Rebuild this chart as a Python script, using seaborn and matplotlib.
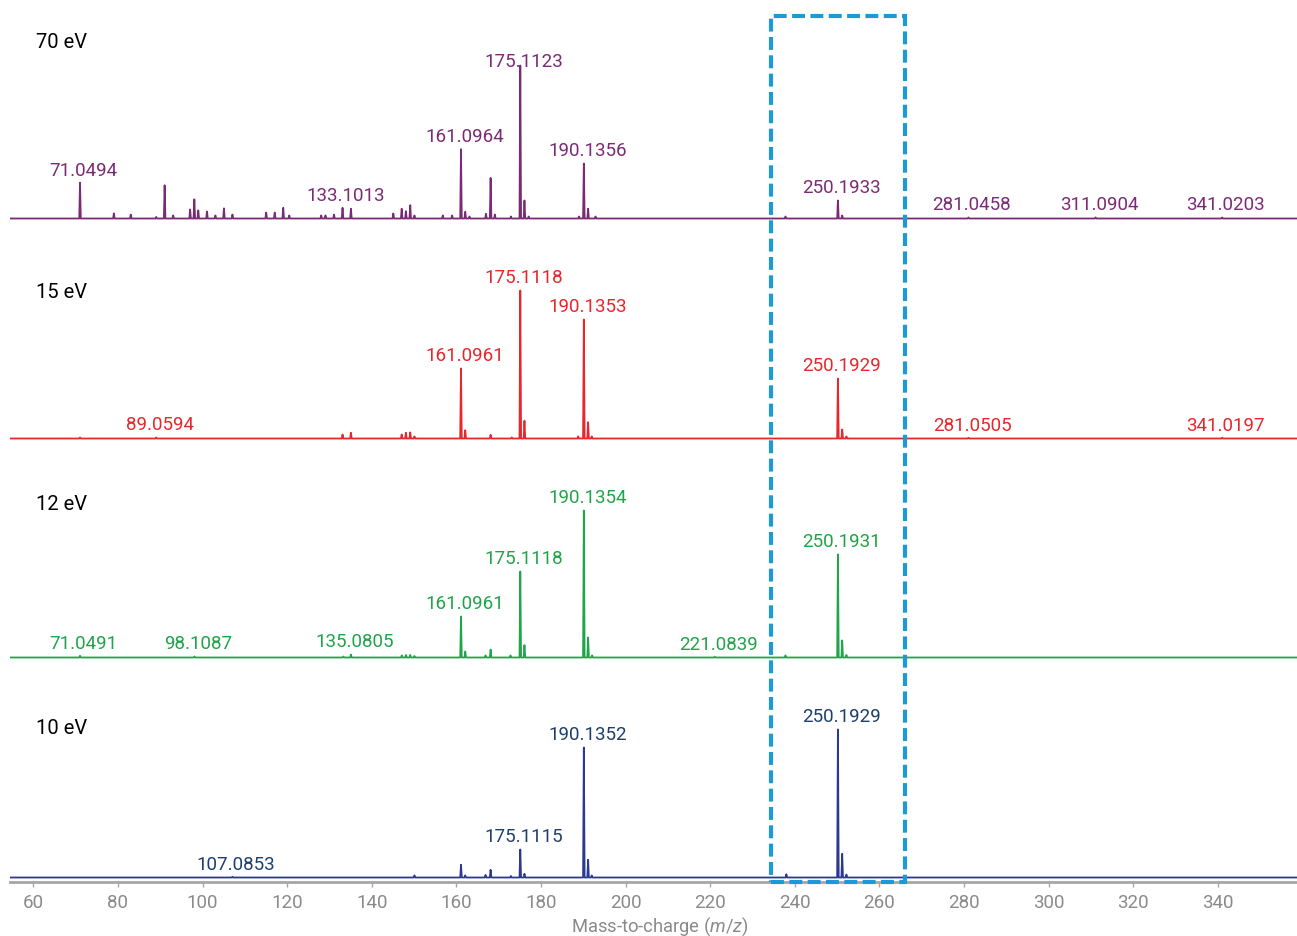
import numpy as np
import pandas as pd
import matplotlib
matplotlib.use("Agg")
import matplotlib.pyplot as plt
import matplotlib.transforms as mtransforms
from matplotlib.patches import Rectangle
import seaborn as sns

# ---------------- data ----------------
energies = ["70 eV", "15 eV", "12 eV", "10 eV"]

mz_70 = [71.0494, 79.05, 83.05, 89.06, 91.05, 93.07, 97.07, 98.07, 99.0, 101.06,
         103.05, 105.07, 107.08, 115.05, 117.07, 119.08, 120.5, 128.06, 129.07, 131.08,
         133.1013, 135.08, 145.1, 147.08, 148.08, 149.1, 150.1, 156.8, 159.0, 161.0964,
         162.1, 163.1, 167.0, 168.1, 169.1, 172.9, 175.1123, 176.1, 177.1, 189.0,
         190.1356, 191.14, 192.9, 237.8, 250.1933, 251.2, 281.0458, 311.0904, 341.0203]
int_70 = [23.4, 3.3, 2.6, 1.0, 21.7, 2.0, 5.9, 12.5, 5.3, 4.6,
          2.0, 6.6, 2.6, 3.9, 3.9, 7.0, 2.0, 2.0, 2.0, 2.6,
          7.0, 6.4, 3.3, 6.4, 4.8, 8.7, 2.0, 2.0, 2.0, 45.3,
          4.4, 1.3, 3.1, 26.5, 2.6, 1.3, 100.0, 11.8, 1.3, 1.3,
          35.9, 6.4, 1.3, 1.3, 11.8, 2.0, 0.7, 0.7, 0.7]
labels_70 = [71.0494, 133.1013, 161.0964, 175.1123, 190.1356, 250.1933, 281.0458, 311.0904, 341.0203]

mz_15 = [71.05, 89.0594, 133.1, 135.08, 147.08, 148.08, 149.1, 150.1, 161.0961, 162.1,
         168.1, 173.1, 175.1118, 176.1, 188.8, 190.1353, 191.14, 192.0, 250.1929, 251.2,
         252.2, 281.0505, 341.0197]
int_15 = [0.7, 0.7, 2.7, 3.9, 2.7, 3.9, 4.1, 1.4, 47.3, 5.6,
          2.5, 0.7, 100.0, 12.0, 1.4, 80.4, 11.0, 1.4, 40.5, 6.1,
          1.4, 0.5, 0.5]
labels_15 = [89.0594, 161.0961, 175.1118, 190.1353, 250.1929, 281.0505, 341.0197]

mz_12 = [71.0491, 98.1087, 133.3, 135.0805, 147.1, 148.1, 149.1, 150.1, 161.0961, 162.1,
         166.9, 168.1, 172.8, 175.1118, 176.1, 190.1354, 191.14, 192.1, 221.0839, 237.8,
         250.1931, 251.2, 252.2]
int_12 = [1.2, 0.7, 0.7, 2.0, 1.4, 1.7, 1.7, 1.0, 27.9, 4.1,
          1.4, 5.4, 1.4, 58.5, 8.4, 100.0, 13.6, 1.4, 0.5, 1.4,
          70.1, 11.6, 1.7]
labels_12 = [71.0491, 98.1087, 135.0805, 161.0961, 175.1118, 190.1354, 221.0839, 250.1931]

mz_10 = [107.0853, 150.1, 161.1, 162.1, 166.9, 168.1, 172.9, 175.1115, 176.1, 190.1352,
         191.14, 192.0, 238.0, 250.1929, 251.2, 252.2]
int_10 = [0.5, 1.4, 8.6, 1.4, 1.7, 5.2, 1.0, 18.9, 2.5, 87.8,
          12.0, 1.4, 2.2, 100.0, 16.0, 2.0]
labels_10 = [107.0853, 175.1115, 190.1352, 250.1929]

x_ticks = [60, 80, 100, 120, 140, 160, 180, 200, 220, 240, 260, 280, 300, 320, 340]
highlight_range = [234.3, 266.0]

# ---------------- styling ----------------
sns.set_theme(style="white")
plt.rcParams["font.family"] = ["Roboto", "DejaVu Sans"]
plt.rcParams["mathtext.fontset"] = "custom"
plt.rcParams["mathtext.rm"] = "Roboto"
plt.rcParams["mathtext.it"] = "Roboto:italic"

line_colors = ["#7d2a76", "#e8262b", "#1fa64b", "#2b3990"]
label_colors = ["#7d2a76", "#e8262b", "#21a34a", "#1d3f6e"]
grey = "#8a8a8a"

W, H = 1297, 937
fig = plt.figure(figsize=(W / 100, H / 100), dpi=100)

xmin, xmax = 54.5, 358.7
baselines_px = [219.5, 439.5, 658.5, 878.5]
px_per_unit = [1.53, 1.48, 1.47, 1.48]
name_y_px = [43, 293, 505, 728]

panels = [(mz_70, int_70, labels_70), (mz_15, int_15, labels_15),
          (mz_12, int_12, labels_12), (mz_10, int_10, labels_10)]

half_w = 0.18
axes = []
for k, (mz, inten, labs) in enumerate(panels):
    base = baselines_px[k]
    s = px_per_unit[k]
    bottom_px = base + 4
    top_px = base - 216
    ax = fig.add_axes([10 / W, (H - bottom_px) / H, 1 - 10 / W, (bottom_px - top_px) / H])
    axes.append(ax)

    # stick spectrum built from the peak lists
    xs, ys = [xmin], [0.0]
    for m, v in sorted(zip(mz, inten)):
        xs += [m - half_w, m, m + half_w]
        ys += [0.0, v, 0.0]
    xs.append(xmax)
    ys.append(0.0)
    df = pd.DataFrame({"mz": xs, "intensity": ys})
    sns.lineplot(data=df, x="mz", y="intensity", sort=False, estimator=None,
                 color=line_colors[k], lw=1.3, ax=ax)

    ax.set_xlim(xmin, xmax)
    ax.set_ylim(-4 / s, 216 / s)
    ax.set_xlabel("")
    ax.set_ylabel("")
    ax.set_yticks([])
    for sp in ax.spines.values():
        sp.set_visible(False)

    lookup = dict(zip(mz, inten))
    for lv in labs:
        off = 3.2 if (k == 0 and abs(lv - 175.1123) < 1e-6) else 9.5
        ax.annotate(f"{lv:.4f}", xy=(lv, lookup[lv]), xytext=(2.5, off),
                    textcoords="offset points", ha="center", va="center",
                    fontsize=13.5, color=label_colors[k], annotation_clip=False)

    fig.text(36 / W, 1 - name_y_px[k] / H, energies[k], ha="left", va="center",
             fontsize=14.5, color="black")

    if k < 3:
        ax.set_xticks([])
    else:
        ax.spines["bottom"].set_visible(True)
        ax.spines["bottom"].set_color("#a6a6a6")
        ax.spines["bottom"].set_linewidth(2.0)
        ax.spines["bottom"].set_position(("axes", 0.0))
        ax.set_xticks(x_ticks)
        ax.set_xticklabels([str(t) for t in x_ticks])
        ax.tick_params(axis="x", direction="out", length=3.5, width=1.0, color="#a6a6a6",
                       labelsize=13.5, labelcolor=grey, pad=5, bottom=True)
        ax.set_xlabel("Mass-to-charge ($m/z$)", fontsize=13.2, color=grey)
        ax.xaxis.set_label_coords((659.5 - 10) / (W - 10), -(915 - bottom_px) / 220)

# dashed highlight box spanning all panels
bax = axes[-1]
trans = mtransforms.blended_transform_factory(bax.transData, fig.transFigure)
rect = Rectangle((highlight_range[0], 1 - 882.5 / H),
                 highlight_range[1] - highlight_range[0], (882.5 - 17) / H,
                 transform=trans, fill=False, edgecolor="#1c9ad6", lw=3.0,
                 linestyle=(0, (3.1, 1.3)), clip_on=False, zorder=10)
fig.add_artist(rect)

fig.savefig("out.png", dpi=100)
